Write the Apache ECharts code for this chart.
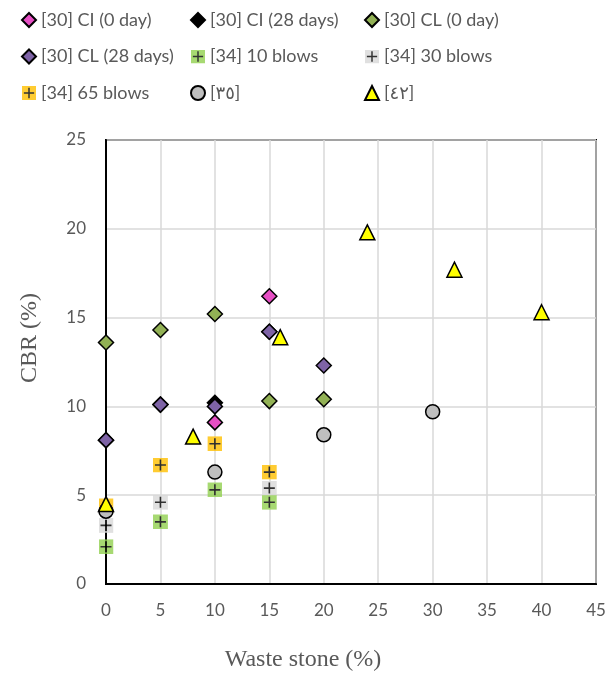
<!DOCTYPE html>
<html><head><meta charset="utf-8">
<script src="https://cdn.jsdelivr.net/npm/echarts@6/dist/echarts.min.js"></script>
<style>html,body{margin:0;padding:0;background:#fff}#c{width:613px;height:677px}</style>
</head><body><div id="c"></div>
<script>
// Series names
const seriesNames = ["[30] CI (0 day)", "[30] CI (28 days)", "[30] CL (0 day)",
  "[30] CL (28 days)", "[34] 10 blows", "[34] 30 blows",
  "[34] 65 blows", "[٣٥]", "[٤٢]"];
// [x, y] values: waste stone (%), CBR (%)
const ci0 = [[10, 9.1], [15, 16.2]];
const ci28 = [[0, 8.1], [5, 10.1], [10, 10.2], [15, 14.2]];
const cl0 = [[0, 13.6], [5, 14.3], [10, 15.2], [15, 10.3], [20, 10.4]];
const cl28 = [[0, 8.1], [5, 10.1], [10, 10.0], [15, 14.2], [20, 12.3]];
const blows10 = [[0, 2.1], [5, 3.5], [10, 5.3], [15, 4.6]];
const blows30 = [[0, 3.3], [5, 4.6], [15, 5.4]];
const blows65 = [[0, 4.4], [5, 6.7], [10, 7.9], [15, 6.3]];
const ref35 = [[0, 4.1], [10, 6.3], [20, 8.4], [30, 9.7]];
const ref42 = [[0, 4.5], [8, 8.3], [16, 13.9], [24, 19.8], [32, 17.7], [40, 15.3]];
const xTicks = [0, 5, 10, 15, 20, 25, 30, 35, 40, 45];
const yTicks = [0, 5, 10, 15, 20, 25];

function plusIcon(bg) {
  const svg = '<svg xmlns="http://www.w3.org/2000/svg" width="30" height="30" viewBox="0 0 30 30">' +
    '<rect x="0" y="0" width="30" height="30" fill="' + bg + '"/>' +
    '<path d="M15 4 V26 M4 15 H26" stroke="#000" stroke-width="3.2" fill="none"/></svg>';
  return 'image://data:image/svg+xml;charset=utf-8,' + encodeURIComponent(svg);
}

const diamondStyle = c => ({ color: c, borderColor: '#000', borderWidth: 1.5, opacity: 1 });
const series = [
  { name: seriesNames[0], data: ci0, symbol: 'diamond', symbolSize: 15, itemStyle: diamondStyle('#E64FC4') },
  { name: seriesNames[1], data: ci28, symbol: 'diamond', symbolSize: 15, itemStyle: diamondStyle('#000000') },
  { name: seriesNames[2], data: cl0, symbol: 'diamond', symbolSize: 15, itemStyle: diamondStyle('#92B155') },
  { name: seriesNames[3], data: cl28, symbol: 'diamond', symbolSize: 15, itemStyle: diamondStyle('#7E63A6') },
  { name: seriesNames[4], data: blows10, symbol: plusIcon('#92D050'), symbolSize: 15, itemStyle: { color: '#92D050' } },
  { name: seriesNames[5], data: blows30, symbol: plusIcon('#D9D9D9'), symbolSize: 15, itemStyle: { color: '#D9D9D9' } },
  { name: seriesNames[6], data: blows65, symbol: plusIcon('#FFC000'), symbolSize: 15, itemStyle: { color: '#FFC000' } },
  { name: seriesNames[7], data: ref35, symbol: 'circle', symbolSize: 14, itemStyle: { color: '#BFBFBF', borderColor: '#000', borderWidth: 1.5, opacity: 1 } },
  { name: seriesNames[8], data: ref42, symbol: 'triangle', symbolSize: 15, itemStyle: { color: '#FFFF00', borderColor: '#000', borderWidth: 1.5, opacity: 1 } }
].map(s => Object.assign({ type: 'scatter', emphasis: { disabled: true } }, s));

const legendText = { fontFamily: 'Lato, "DejaVu Sans", sans-serif', fontSize: 18, color: '#595959' };
function legendCol(left, names) {
  return { data: names, left: left, top: 11, orient: 'vertical', itemGap: 18.5, itemWidth: 14, itemHeight: 14,
    textStyle: legendText, padding: 0, selectedMode: false };
}

const chart = echarts.init(document.getElementById('c'), null, { renderer: 'canvas' });
chart.setOption({
  animation: false,
  backgroundColor: '#fff',
  legend: [
    legendCol(21, [seriesNames[0], seriesNames[3], seriesNames[6]]),
    legendCol(190, [seriesNames[1], seriesNames[4], seriesNames[7]]),
    legendCol(364, [seriesNames[2], seriesNames[5], seriesNames[8]])
  ],
  grid: { left: 106, width: 490, top: 140, height: 446, show: true, borderColor: '#000', borderWidth: 2, containLabel: false },
  xAxis: {
    type: 'value', min: xTicks[0], max: xTicks[xTicks.length - 1], interval: 5,
    name: 'Waste stone (%)', nameLocation: 'middle', nameGap: 64,
    nameTextStyle: { fontFamily: '"Liberation Serif", serif', fontSize: 24, color: '#595959', padding: [0, 96, 0, 0] },
    axisLine: { show: true, lineStyle: { color: '#000', width: 2 } },
    axisTick: { show: false },
    axisLabel: { fontFamily: 'Lato, sans-serif', fontSize: 17, color: '#595959', margin: 18 },
    splitLine: { show: true, lineStyle: { color: '#D9D9D9', width: 1.5 } }
  },
  yAxis: {
    type: 'value', min: yTicks[0], max: yTicks[yTicks.length - 1], interval: 5,
    name: 'CBR (%)', nameLocation: 'middle', nameGap: 64,
    nameTextStyle: { fontFamily: '"Liberation Serif", serif', fontSize: 24, color: '#595959', padding: [0, 0, 0, 48] },
    axisLine: { show: true, lineStyle: { color: '#000', width: 2 } },
    axisTick: { show: false },
    axisLabel: { fontFamily: 'Lato, sans-serif', fontSize: 17, color: '#595959', margin: 20 },
    splitLine: { show: true, lineStyle: { color: '#D9D9D9', width: 1.5 } }
  },
  series: series
});
</script></body></html>
